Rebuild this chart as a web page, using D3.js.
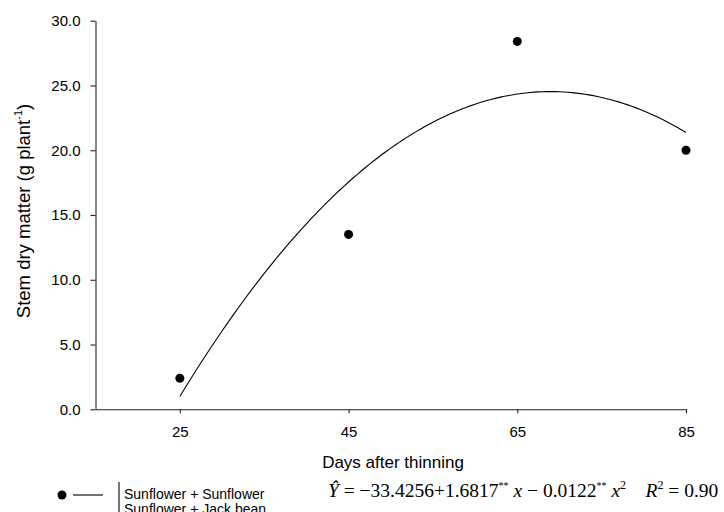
<!DOCTYPE html>
<html>
<head>
<meta charset="utf-8">
<script src="https://cdn.jsdelivr.net/npm/d3@7"></script>
<style>
  html, body { margin: 0; padding: 0; background: #fff; }
  svg { display: block; }
  .sans { font-family: "Liberation Sans", Arial, sans-serif; }
  .serif { font-family: "Liberation Serif", "Times New Roman", serif; }
</style>
</head>
<body>
<svg id="chart" width="724" height="512"></svg>
<script>
// Sampling days and observed stem dry matter (g plant^-1)
const days = [25, 45, 65, 85];
const stemDryMatter = [2.4, 13.5, 28.4, 20.0];

// Quadratic fit: Y = b0 + b1 x + b2 x^2
const coefficients = [-33.4256, 1.6817, -0.0122];
const rSquared = 0.90;

// Axis ticks
const xTicks = [25, 45, 65, 85];
const yTicks = [0, 5, 10, 15, 20, 25, 30];

// Legend entries
const legendLabels = ["Sunflower + Sunflower", "Sunflower + Jack bean"];

const svg = d3.select("#chart");
const ink = "#000";

const x = d3.scaleLinear().domain([15, 85]).range([95.5, 686]);
const y = d3.scaleLinear().domain([0, 30]).range([409.3, 20.7]);

// Y axis
const yAxis = svg.append("g")
  .attr("transform", `translate(${x(15)},0)`)
  .call(d3.axisLeft(y).tickValues(yTicks).tickFormat(d3.format(".1f"))
    .tickSize(5).tickSizeOuter(0).tickPadding(10));
yAxis.attr("font-family", null).attr("font-size", null);
yAxis.selectAll("text").attr("class", "sans").style("font-size", "15px").attr("fill", ink);
yAxis.selectAll("path, line").attr("stroke", "#222").attr("stroke-width", 1.1);

// X axis
const xAxis = svg.append("g")
  .attr("transform", `translate(0,${y(0)})`)
  .call(d3.axisBottom(x).tickValues(xTicks).tickFormat(d3.format("d"))
    .tickSize(4).tickSizeOuter(0).tickPadding(13));
xAxis.attr("font-family", null).attr("font-size", null);
xAxis.selectAll("text").attr("class", "sans").style("font-size", "15px").attr("fill", ink);
xAxis.selectAll("path, line").attr("stroke", "#222").attr("stroke-width", 1.1);

// Axis titles
svg.append("text")
  .attr("class", "sans")
  .attr("x", 393).attr("y", 468)
  .attr("text-anchor", "middle")
  .style("font-size", "17px")
  .text("Days after thinning");

const yTitle = svg.append("text")
  .attr("class", "sans")
  .attr("transform", "translate(30,211) rotate(-90)")
  .attr("text-anchor", "middle")
  .style("font-size", "18.5px");
yTitle.append("tspan").text("Stem dry matter (g plant");
yTitle.append("tspan").attr("dy", -8).style("font-size", "11px").text("-1");
yTitle.append("tspan").attr("dy", 8).text(")");

// Fitted curve
const fit = v => coefficients[0] + coefficients[1] * v + coefficients[2] * v * v;
const curveX = d3.range(days[0], days[days.length - 1] + 0.001, 0.5);
svg.append("path")
  .datum(curveX)
  .attr("fill", "none")
  .attr("stroke", ink)
  .attr("stroke-width", 1.1)
  .attr("d", d3.line().x(d => x(d)).y(d => y(fit(d))));

// Observed points
svg.append("g").selectAll("circle")
  .data(days.map((d, i) => [d, stemDryMatter[i]]))
  .join("circle")
  .attr("cx", d => x(d[0]))
  .attr("cy", d => y(d[1]))
  .attr("r", 4.5)
  .attr("fill", ink);

// Legend
const legend = svg.append("g");
legend.append("circle").attr("cx", 62).attr("cy", 495).attr("r", 4.5).attr("fill", ink);
legend.append("line").attr("x1", 73).attr("x2", 103).attr("y1", 495).attr("y2", 495)
  .attr("stroke", ink).attr("stroke-width", 1.1);
legend.append("line").attr("x1", 119).attr("x2", 119).attr("y1", 482).attr("y2", 520)
  .attr("stroke", ink).attr("stroke-width", 1.1);
legend.selectAll("text.lg")
  .data(legendLabels)
  .join("text")
  .attr("class", "sans lg")
  .attr("x", 124)
  .attr("y", (d, i) => 498.5 + i * 15)
  .style("font-size", "14px")
  .text(d => d);

// Regression equation
const fmt = d3.format(".4f");
const eq = svg.append("text")
  .attr("class", "serif")
  .attr("x", 328).attr("y", 497)
  .style("font-size", "19.5px");
eq.append("tspan").style("font-style", "italic").text("\u0176");
eq.append("tspan").text(" = \u2212" + fmt(Math.abs(coefficients[0])) + "+" + fmt(coefficients[1]));
eq.append("tspan").attr("dy", -8).style("font-size", "10px").text("**");
eq.append("tspan").attr("dy", 8).style("font-style", "italic").text(" x");
eq.append("tspan").text(" \u2212 " + fmt(Math.abs(coefficients[2])));
eq.append("tspan").attr("dy", -8).style("font-size", "10px").text("**");
eq.append("tspan").attr("dy", 8).style("font-style", "italic").text(" x");
eq.append("tspan").attr("dy", -8).style("font-size", "12px").text("2");
eq.append("tspan").attr("dy", 8).text("\u2002\u2002");
eq.append("tspan").style("font-style", "italic").text("R");
eq.append("tspan").attr("dy", -8).style("font-size", "12px").text("2");
eq.append("tspan").attr("dy", 8).text(" = " + d3.format(".2f")(rSquared));
</script>
</body>
</html>
